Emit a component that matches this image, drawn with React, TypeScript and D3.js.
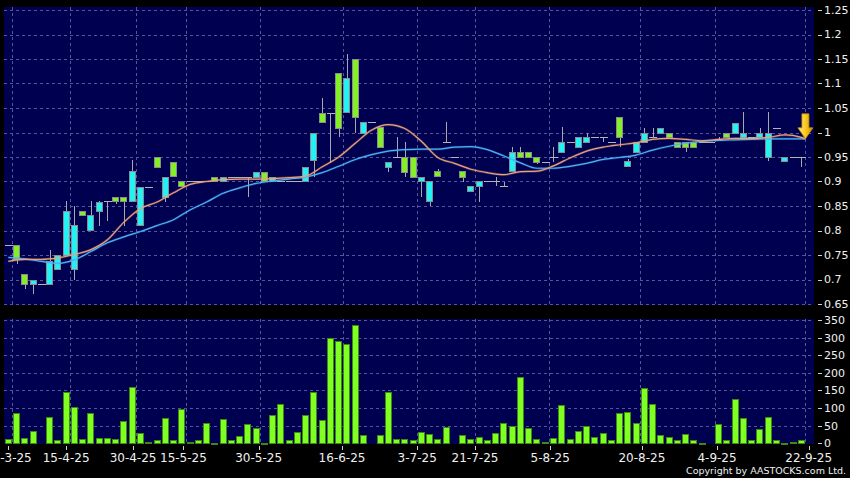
import React from 'react';
import * as d3 from 'd3';

// daily candles, one slot per trading day (o == c drawn as a flat grey dash)
const opens = [
  0.77, 0.77, 0.711, 0.691, 0.69, 0.69, 0.721, 0.75, 0.721, 0.839,
  0.801, 0.839, 0.86, 0.869, 0.869, 0.86, 0.811, 0.889, 0.95, 0.869,
  0.94, 0.9, 0.9, 0.9, 0.9, 0.91, 0.901, 0.91, 0.91, 0.91,
  0.91, 0.92, 0.901, 0.9, 0.9, 0.9, 0.9, 0.943, 1.04, 1.04,
  1.121, 1.041, 1.151, 1.0, 1.021, 1.011, 0.93, 0.95, 0.95, 0.95,
  0.9, 0.86, 0.921, 0.98, 0.95, 0.921, 0.88, 0.89, 0.9, 0.9,
  0.89, 0.921, 0.96, 0.96, 0.95, 0.94, 0.95, 0.96, 0.98, 0.97,
  0.98, 0.99, 0.99, 0.98, 1.031, 0.932, 0.96, 0.98, 0.99, 1.0,
  1.0, 0.98, 0.98, 0.98, 0.98, 0.98, 0.985, 1.0, 1.0, 0.99,
  0.99, 0.99, 0.95, 1.01, 0.941, 0.95, 0.95
];
const closes = [
  0.77, 0.741, 0.69, 0.7, 0.69, 0.738, 0.749, 0.839, 0.811, 0.831,
  0.831, 0.859, 0.86, 0.86, 0.86, 0.921, 0.889, 0.889, 0.93, 0.91,
  0.911, 0.891, 0.9, 0.9, 0.9, 0.901, 0.91, 0.91, 0.91, 0.91,
  0.92, 0.9, 0.91, 0.9, 0.9, 0.9, 0.93, 1.0, 1.021, 1.04,
  1.01, 1.111, 1.031, 1.021, 1.021, 0.97, 0.94, 0.95, 0.92, 0.91,
  0.91, 0.9, 0.911, 0.98, 0.95, 0.91, 0.89, 0.9, 0.9, 0.9,
  0.89, 0.96, 0.95, 0.95, 0.94, 0.94, 0.95, 0.98, 0.98, 0.99,
  0.99, 0.99, 0.99, 0.98, 0.99, 0.942, 0.98, 1.0, 0.99, 1.01,
  0.99, 0.97, 0.97, 0.97, 0.98, 0.98, 0.985, 0.99, 1.02, 1.0,
  0.99, 1.0, 1.0, 1.01, 0.95, 0.95, 0.95
];
const highs = [
  0.77, 0.77, 0.711, 0.7, 0.69, 0.76, 0.749, 0.86, 0.85, 0.839,
  0.86, 0.86, 0.86, 0.869, 0.869, 0.943, 0.889, 0.889, 0.95, 0.91,
  0.94, 0.9, 0.9, 0.9, 0.9, 0.91, 0.91, 0.91, 0.91, 0.91,
  0.92, 0.92, 0.91, 0.9, 0.9, 0.9, 0.93, 1.0, 1.07, 1.04,
  1.121, 1.16, 1.151, 1.021, 1.021, 1.011, 0.94, 0.99, 0.98, 0.95,
  0.91, 0.9, 0.925, 1.021, 0.95, 0.921, 0.89, 0.9, 0.9, 0.91,
  0.9, 0.97, 0.97, 0.96, 0.95, 0.94, 0.97, 1.012, 0.98, 0.99,
  1.0, 0.99, 0.99, 0.98, 1.031, 0.945, 0.98, 1.01, 1.01, 1.01,
  1.0, 0.98, 0.98, 0.98, 0.98, 0.98, 0.99, 1.0, 1.02, 1.041,
  0.99, 1.01, 1.041, 1.01, 0.95, 0.95, 0.95
];
const lows = [
  0.77, 0.732, 0.68, 0.67, 0.69, 0.69, 0.721, 0.75, 0.7, 0.831,
  0.801, 0.809, 0.82, 0.855, 0.809, 0.86, 0.811, 0.889, 0.93, 0.859,
  0.911, 0.891, 0.9, 0.9, 0.9, 0.901, 0.901, 0.91, 0.91, 0.869,
  0.91, 0.9, 0.901, 0.9, 0.9, 0.9, 0.9, 0.91, 1.021, 0.937,
  0.99, 1.041, 1.0, 1.0, 1.021, 0.97, 0.92, 0.95, 0.91, 0.91,
  0.869, 0.849, 0.911, 0.98, 0.95, 0.9, 0.88, 0.859, 0.9, 0.89,
  0.89, 0.921, 0.95, 0.95, 0.935, 0.94, 0.94, 0.96, 0.98, 0.97,
  0.98, 0.99, 0.98, 0.98, 0.971, 0.932, 0.96, 0.98, 0.99, 1.0,
  0.99, 0.97, 0.96, 0.97, 0.98, 0.98, 0.985, 0.99, 1.0, 0.99,
  0.99, 0.99, 0.941, 1.01, 0.941, 0.95, 0.93
];
const volumes = [
  11, 86, 16, 36, 0, 76, 9, 146, 102, 12,
  87, 15, 15, 11, 62, 160, 29, 3, 9, 71,
  9, 96, 5, 8, 58, 2, 69, 9, 21, 54,
  44, 1, 79, 112, 9, 32, 79, 146, 65, 299,
  291, 281, 335, 23, 0, 24, 146, 13, 11, 8,
  31, 25, 11, 45, 0, 24, 11, 17, 9, 29,
  58, 48, 189, 43, 13, 4, 15, 109, 11, 34,
  50, 19, 29, 9, 87, 90, 59, 156, 111, 24,
  19, 8, 27, 8, 1, 0, 54, 9, 125, 73,
  8, 41, 74, 10, 1, 3, 9
];

// moving averages, every second slot plus the end point
const maSlots = [
  0, 2, 4, 6, 8, 10, 12, 14, 16, 18, 20, 22, 24, 26, 28, 30, 32, 34, 36, 38,
  40, 42, 44, 46, 48, 50, 52, 54, 56, 58, 60, 62, 64, 66, 68, 70, 72, 74, 76, 78,
  80, 82, 84, 86, 88, 90, 92, 94, 96, 96.5
];
const maFast = [
  0.737, 0.741, 0.741, 0.744, 0.751, 0.761, 0.781, 0.817, 0.845, 0.858,
  0.877, 0.894, 0.9, 0.904, 0.905, 0.905, 0.906, 0.908, 0.911, 0.93,
  0.95, 0.978, 1.005, 1.016, 1.008, 0.982, 0.949, 0.937, 0.925, 0.918,
  0.914, 0.92, 0.921, 0.932, 0.948, 0.962, 0.97, 0.975, 0.979, 0.986,
  0.988, 0.986, 0.983, 0.986, 0.988, 0.988, 0.99, 0.995, 0.99, 0.987
];
const maSlow = [
  0.745, 0.742, 0.737, 0.733, 0.74, 0.757, 0.775, 0.787, 0.798, 0.81,
  0.822, 0.842, 0.858, 0.876, 0.887, 0.896, 0.901, 0.905, 0.909, 0.918,
  0.931, 0.945, 0.955, 0.962, 0.965, 0.966, 0.966, 0.97, 0.971, 0.965,
  0.952, 0.938, 0.927, 0.927, 0.931, 0.937, 0.945, 0.949, 0.954, 0.964,
  0.972, 0.978, 0.982, 0.984, 0.985, 0.986, 0.987, 0.987, 0.987, 0.987
];

const priceTicks = [0.65, 0.7, 0.75, 0.8, 0.85, 0.9, 0.95, 1, 1.05, 1.1, 1.15, 1.2, 1.25];
const volumeTicks = [0, 50, 100, 150, 200, 250, 300, 350];
const gridSlots = [0.5, 7.5, 15.5, 21.5, 30.5, 40.5, 49.5, 56.5, 65.5, 76.5, 85.5, 96.5];
const labelSlots = [0, 7, 15.1, 21.2, 30.3, 40.4, 49.5, 56.5, 65.6, 76.7, 85.8, 96.9];
const dateLabels = ['31-3-25', '15-4-25', '30-4-25', '15-5-25', '30-5-25', '16-6-25', '3-7-25', '21-7-25', '5-8-25', '20-8-25', '4-9-25', '22-9-25'];

const W = 850;
const H = 478;
const panelLeft = 4;
const panelRight = 814;
const main = { top: 7, bottom: 305 };
const vol = { top: 319, bottom: 444 };

const UP = '#22f2f6';
const DOWN = '#82f024';
const GRID = '#55559c';
const FONT = '"DejaVu Sans", sans-serif';

export default function App() {
  const x = d3.scaleLinear().domain([0, 96]).range([8.33, 801.3]);
  const yP = d3.scaleLinear().domain([0.65, 1.25]).range([304, 10]);
  const yV = d3.scaleLinear().domain([0, 350]).range([443.3, 320]);

  const fmt = (v: number) => String(+v.toFixed(2));
  const bodyLeft = (i: number) => Math.round(x(i) - 3.5) + 0.5;
  const wickX = (i: number) => Math.round(x(i)) + 0.5;

  const maLine = (vals: number[]) =>
    d3.line<number>()
      .x((_, k) => x(maSlots[k]))
      .y(v => yP(v))
      .curve(d3.curveMonotoneX)(vals) || '';

  // arrow at the last point
  const ax = x(96.5);
  const ay = yP(maFast[maFast.length - 1]);
  const arrow = `M${ax - 3.5},${ay - 25} L${ax + 3.5},${ay - 25} L${ax + 3.5},${ay - 11} L${ax + 7.5},${ay - 11} L${ax},${ay} L${ax - 7.5},${ay - 11} L${ax - 3.5},${ay - 11} Z`;

  return (
    <svg
      width={W}
      height={H}
      style={{ position: 'fixed', left: 0, top: 0, background: '#000' }}
      fontFamily={FONT}
    >
      <defs>
        <linearGradient id="arrowFill" x1="0" y1="0" x2="1" y2="0">
          <stop offset="0%" stopColor="#fff27a" />
          <stop offset="55%" stopColor="#f7c719" />
          <stop offset="100%" stopColor="#d88a00" />
        </linearGradient>
        <filter id="glow" x="-10%" y="-10%" width="120%" height="120%">
          <feGaussianBlur stdDeviation="0.6" />
        </filter>
      </defs>
      <rect x={0} y={0} width={W} height={H} fill="#000" />

      {/* panels */}
      <rect x={panelLeft} y={main.top} width={panelRight - panelLeft} height={main.bottom - main.top} fill="#000050" />
      <rect x={panelLeft} y={vol.top} width={panelRight - panelLeft} height={vol.bottom - vol.top} fill="#000050" />

      {/* grid */}
      <g stroke={GRID} strokeWidth={1} strokeDasharray="3,3" shapeRendering="crispEdges">
        {priceTicks.map(t => (
          <line key={'hp' + t} x1={panelLeft} x2={panelRight} y1={Math.round(yP(t)) + 0.5} y2={Math.round(yP(t)) + 0.5} />
        ))}
        {volumeTicks.filter(t => t > 0).map(t => (
          <line key={'hv' + t} x1={panelLeft} x2={panelRight} y1={Math.round(yV(t)) + 0.5} y2={Math.round(yV(t)) + 0.5} />
        ))}
        {gridSlots.map(s => (
          <g key={'v' + s}>
            <line x1={Math.round(x(s)) + 0.5} x2={Math.round(x(s)) + 0.5} y1={main.top} y2={main.bottom} />
            <line x1={Math.round(x(s)) + 0.5} x2={Math.round(x(s)) + 0.5} y1={vol.top} y2={vol.bottom} />
          </g>
        ))}
      </g>

      {/* candles */}
      <g shapeRendering="crispEdges">
        {opens.map((o, i) => {
          const c = closes[i];
          const h = highs[i];
          const l = lows[i];
          const wick = h > l ? (
            <line x1={wickX(i)} x2={wickX(i)} y1={yP(h)} y2={yP(l)} stroke="#a8a8a8" strokeWidth={1} />
          ) : null;
          if (o === c) {
            const yy = Math.round(yP(o)) + 0.5;
            return (
              <g key={i}>
                {wick}
                <line x1={bodyLeft(i) - 0.5} x2={bodyLeft(i) + 7.5} y1={yy} y2={yy} stroke="#b4b4b4" strokeWidth={1} />
              </g>
            );
          }
          const top = Math.round(yP(Math.max(o, c))) + 0.5;
          const bot = Math.round(yP(Math.min(o, c))) + 0.5;
          return (
            <g key={i}>
              {wick}
              <rect
                x={bodyLeft(i)}
                y={top}
                width={6}
                height={Math.max(bot - top, 1)}
                fill={c > o ? UP : DOWN}
                stroke="#8c8c8c"
                strokeWidth={1}
              />
            </g>
          );
        })}
      </g>

      {/* moving averages */}
      <g fill="none">
        <path d={maLine(maSlow)} stroke="#3fa9ef" strokeWidth={2.5} opacity={0.25} filter="url(#glow)" />
        <path d={maLine(maSlow)} stroke="#4db4f4" strokeWidth={1.2} />
        <path d={maLine(maFast)} stroke="#f0a070" strokeWidth={2.5} opacity={0.25} filter="url(#glow)" />
        <path d={maLine(maFast)} stroke="#eaa27c" strokeWidth={1.2} />
      </g>

      <path d={arrow} fill="url(#arrowFill)" stroke="#c98a00" strokeWidth={0.8} />

      {/* volume */}
      <g shapeRendering="crispEdges">
        {volumes.map((v, i) =>
          v > 0 ? (
            <rect
              key={i}
              x={bodyLeft(i)}
              y={Math.round(yV(v)) + 0.5}
              width={6}
              height={Math.max(Math.round(yV(0)) - Math.round(yV(v)), 1)}
              fill="#80ff22"
              stroke="#3d8a12"
              strokeWidth={1}
            />
          ) : null
        )}
      </g>

      {/* right axes */}
      <g fill="#f0f0f0" fontSize={11} stroke="none">
        {priceTicks.map(t => (
          <g key={'pt' + t}>
            <line x1={818} x2={822} y1={Math.round(yP(t)) + 0.5} y2={Math.round(yP(t)) + 0.5} stroke="#d0d0d0" />
            <text x={824} y={yP(t)} dy="0.36em">{fmt(t)}</text>
          </g>
        ))}
        {volumeTicks.map(t => (
          <g key={'vt' + t}>
            <line x1={818} x2={822} y1={Math.round(yV(t)) + 0.5} y2={Math.round(yV(t)) + 0.5} stroke="#d0d0d0" />
            <text x={824} y={yV(t)} dy="0.36em">{t}</text>
          </g>
        ))}
      </g>

      {/* date axis */}
      <g fill="#f0f0f0" fontSize={12}>
        {labelSlots.map((s, k) => (
          <g key={'d' + k}>
            <line x1={Math.round(x(s)) + 0.5} x2={Math.round(x(s)) + 0.5} y1={446} y2={450} stroke="#d0d0d0" />
            <text x={x(s)} y={462} textAnchor="middle">{dateLabels[k]}</text>
          </g>
        ))}
      </g>

      <text x={846} y={474} textAnchor="end" fill="#f0f0f0" fontSize={9.5}>
        Copyright by AASTOCKS.com Ltd.
      </text>
    </svg>
  );
}
